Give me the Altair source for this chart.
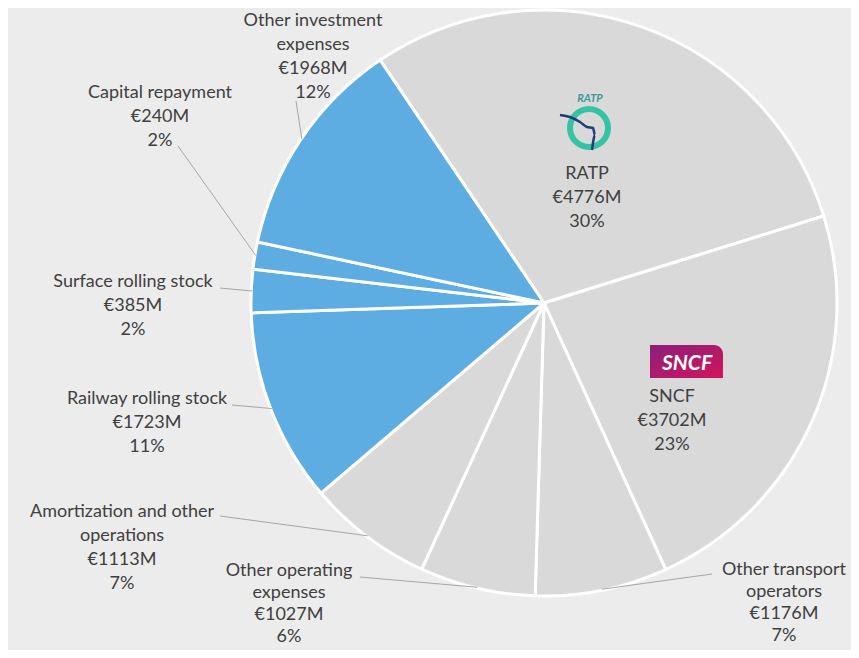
import math
import altair as alt
import pandas as pd

# ---------------- data ----------------
categories = ["RATP", "SNCF", "Other transport operators", "Other operating expenses",
              "Amortization and other operations", "Railway rolling stock",
              "Surface rolling stock", "Capital repayment", "Other investment expenses"]
values_m = [4776, 3702, 1176, 1027, 1113, 1723, 385, 240, 1968]
percent_labels = ["30%", "23%", "7%", "6%", "7%", "11%", "2%", "2%", "12%"]
kinds = ["Operating", "Operating", "Operating", "Operating", "Operating",
         "Investment", "Investment", "Investment", "Investment"]
label_names = ["RATP", "SNCF", "Other transport\noperators", "Other operating\nexpenses",
               "Amortization and other\noperations", "Railway rolling stock",
               "Surface rolling stock", "Capital repayment", "Other investment\nexpenses"]

# ---------------- layout ----------------
W, H = 843, 642
CX, CY, R = 536, 295, 293
START = math.radians(-34) + 2 * math.pi   # angle where the first slice begins
FONT = "Lato"
FONT_SIZE = 18
TEXT_COLOR = "#404040"
LINE_H = 24
LINE_H_BOTTOM = 22

# label anchor (centre x, centre y of the first text line), chart pixels
label_anchor = {
    "RATP": (579, 166), "SNCF": (664, 389),
    "Other transport operators": (776, 562), "Other operating expenses": (281, 563),
    "Amortization and other operations": (114, 504), "Railway rolling stock": (139, 391),
    "Surface rolling stock": (125, 274), "Capital repayment": (152, 85),
    "Other investment expenses": (305, 13),
}
# where a leader line leaves the label
leader_start = {
    "Other transport operators": (704, 566), "Other operating expenses": (352, 569),
    "Amortization and other operations": (212, 508), "Railway rolling stock": (224, 397),
    "Surface rolling stock": (212, 280), "Capital repayment": (170, 138),
    "Other investment expenses": (288, 93),
}
bottom_labels = ["Other transport operators", "Other operating expenses"]

df = pd.DataFrame({
    "idx": list(range(len(categories))),
    "category": categories,
    "value": values_m,
    "kind": kinds,
    "label": [f"{n}\n€{v}M\n{p}" for n, v, p in zip(label_names, values_m, percent_labels)],
})
df["tx"] = [label_anchor[c][0] for c in categories]
df["ty"] = [label_anchor[c][1] - 9 for c in categories]
df["lx"] = [leader_start.get(c, (None, None))[0] for c in categories]
df["ly"] = [leader_start.get(c, (None, None))[1] for c in categories]
df["bottom"] = [c in bottom_labels for c in categories]

base = alt.Chart(df)

pie = base.mark_arc(outerRadius=R, stroke="white", strokeWidth=3).encode(
    theta=alt.Theta("value:Q", stack=True,
                    scale=alt.Scale(range=[START, START + 2 * math.pi])),
    order=alt.Order("idx:Q"),
    color=alt.Color("kind:N", legend=None,
                    scale=alt.Scale(domain=["Operating", "Investment"],
                                    range=["#d9d9d9", "#5dade3"])),
    x=alt.value(CX), y=alt.value(CY),
)

leaders = base.transform_joinaggregate(
    total="sum(value)"
).transform_window(
    cum="sum(value)", sort=[alt.SortField("idx")], frame=[None, 0]
).transform_calculate(
    mid=f"{START} + 2*PI*(datum.cum - datum.value/2)/datum.total"
).transform_calculate(
    ex=f"{CX} + {R - 1}*sin(datum.mid)",
    ey=f"{CY} - {R - 1}*cos(datum.mid)",
).transform_filter("isValid(datum.lx)").mark_rule(color="#a6a6a6", strokeWidth=1).encode(
    x=alt.X("lx:Q", scale=None, axis=None),
    y=alt.Y("ly:Q", scale=None, axis=None),
    x2="ex:Q", y2="ey:Q",
)

text_enc = dict(
    x=alt.X("tx:Q", scale=None, axis=None),
    y=alt.Y("ty:Q", scale=None, axis=None),
    text="label:N",
)
labels = base.transform_filter("!datum.bottom").mark_text(
    font=FONT, fontSize=FONT_SIZE, color=TEXT_COLOR, align="center",
    baseline="top", lineBreak="\n", lineHeight=LINE_H).encode(**text_enc)
labels_bottom = base.transform_filter("datum.bottom").mark_text(
    font=FONT, fontSize=FONT_SIZE, color=TEXT_COLOR, align="center",
    baseline="top", lineBreak="\n", lineHeight=LINE_H_BOTTOM).encode(**text_enc)

# ---- logos (decorations placed relative to the inside labels) ----
rx, ry = label_anchor["RATP"]
sx, sy = label_anchor["SNCF"]
ring_x, ring_y = rx + 2, ry - 46
logo = pd.DataFrame({"a": [0]})
ratp_ring = alt.Chart(logo).mark_arc(innerRadius=16, outerRadius=22, theta=0,
                                     theta2=2 * math.pi, color="#35c3a2").encode(
    x=alt.value(ring_x), y=alt.value(ring_y))
river_dx = [-29, -19, -9, -2, 4, 6, 3]
river_dy = [-13, -11, -6, -1, 0, 7, 22]
river = alt.Chart(pd.DataFrame({"o": list(range(7)), "dx": river_dx, "dy": river_dy})).transform_calculate(
    px=f"{ring_x} + datum.dx", py=f"{ring_y} + datum.dy"
).mark_line(color="#203d7a", strokeWidth=2.5, interpolate="monotone").encode(
    x=alt.X("px:Q", scale=None, axis=None), y=alt.Y("py:Q", scale=None, axis=None),
    order="o:Q")
ratp_text = alt.Chart(logo).mark_text(text="RATP", font=FONT, fontSize=11, fontStyle="italic",
                                      fontWeight="bold", color="#3c9a98").encode(
    x=alt.value(rx + 3), y=alt.value(ry - 75))
sncf_box = alt.Chart(logo).mark_rect(
    color=alt.Gradient(gradient="linear", x1=0, x2=1, y1=0, y2=1,
                       stops=[alt.GradientStop(color="#8c1f7c", offset=0),
                              alt.GradientStop(color="#d2145a", offset=1)]),
    cornerRadiusTopRight=9,
).encode(x=alt.value(sx - 22), x2=alt.value(sx + 51), y=alt.value(sy - 52), y2=alt.value(sy - 19))
sncf_text = alt.Chart(logo).mark_text(text="SNCF", font=FONT, fontSize=21, fontStyle="italic",
                                      fontWeight="bold", color="white").encode(
    x=alt.value(sx + 15), y=alt.value(sy - 33))

chart = alt.layer(pie, leaders, labels, labels_bottom, ratp_ring, river, ratp_text,
                  sncf_box, sncf_text).properties(
    width=W, height=H, autosize=alt.AutoSizeParams(type="none"), padding=0,
    background="#ececec",
).configure_view(stroke=None)

chart.save("out.html", embed_options={"renderer": "svg", "actions": False})
